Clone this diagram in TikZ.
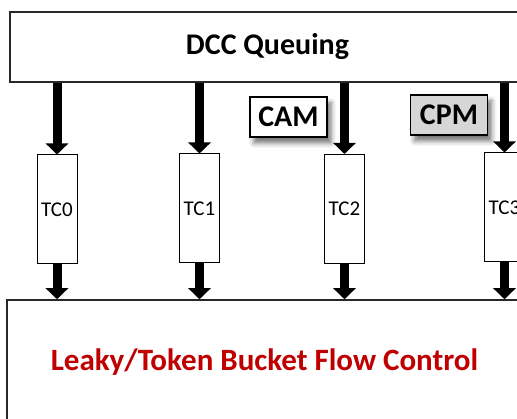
\documentclass[tikz,border=0pt]{standalone}
\usepackage{fontspec}
\setmainfont{Carlito}
\usetikzlibrary{arrows.meta, positioning, shadows.blur}
\definecolor{palink}{RGB}{0,0,0}
\definecolor{palred}{RGB}{192,0,0}
\definecolor{palgrayfill}{RGB}{214,214,214}
\definecolor{palborder}{RGB}{40,40,40}
\tikzset{
  bigblock/.style={
    draw=palborder,
    line width=1.5pt,
    fill=white,
    minimum width=515pt,
    inner sep=0pt,
    font=\fontsize{30}{34}\selectfont\bfseries,
    text=palink
  },
  tcblock/.style={
    draw=palink,
    line width=1pt,
    fill=white,
    minimum width=40pt,
    minimum height=109pt,
    inner sep=1pt,
    font=\fontsize{21}{24}\selectfont,
    text=palink
  },
  tagblock/.style={
    draw=palink,
    line width=1.5pt,
    minimum width=77pt,
    minimum height=40pt,
    inner sep=2pt,
    font=\fontsize{30}{32}\selectfont\bfseries,
    blur shadow={shadow xshift=4pt, shadow yshift=-6pt, shadow blur radius=5pt, shadow opacity=55}
  },
  fatarrow/.style={-{Triangle[width=22pt, length=11pt]}, line width=9pt, draw=palink}
}

\begin{document}
\begin{tikzpicture}[x=1pt, y=-1pt]
        \clip (0,0) rectangle (517,419);
        \node[bigblock, minimum height=70pt] (dcc) at (267.5,47) {DCC Queuing};
        \node[bigblock, minimum height=124pt, text=palred, font=\fontsize{31}{34}\selectfont\bfseries] (bucket) at (264.5,362) {Leaky/Token Bucket Flow Control};

        \node[tcblock] (tc0) at (57,209.5) {TC0};
        \node[tcblock] (tc1) at (199.5,208.5) {TC1};
        \node[tcblock] (tc2) at (344.5,209) {TC2};
        \node[tcblock] (tc3) at (504.5,207.5) {TC3};

        \node[tagblock, fill=white] (cam) at (288.5,117) {CAM};
        \node[tagblock, fill=palgrayfill] (cpm) at (449,115) {CPM};

        \foreach \t in {tc0, tc1, tc2, tc3} {
          \draw[fatarrow] (dcc.south -| \t) -- (\t.north);
          \draw[fatarrow] (\t.south) -- (bucket.north -| \t);
        }
      \end{tikzpicture}
\end{document}
